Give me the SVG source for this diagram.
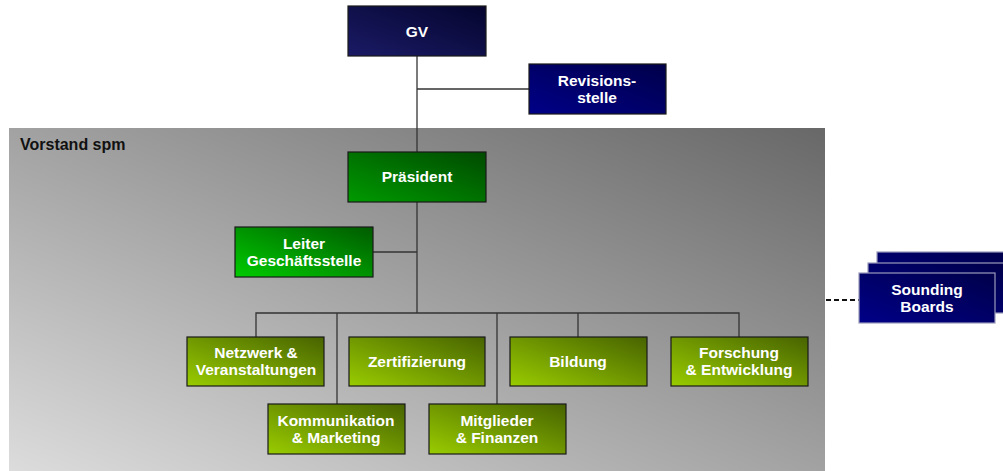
<svg xmlns="http://www.w3.org/2000/svg" width="1003" height="471" viewBox="0 0 1003 471">
<defs>
<linearGradient id="panel" x1="0" y1="1" x2="1" y2="0">
<stop offset="0" stop-color="#dcdcdc"/>
<stop offset="1" stop-color="#686868"/>
</linearGradient>
<linearGradient id="navyDark" x1="0" y1="1" x2="1" y2="0">
<stop offset="0" stop-color="#1a1a66"/>
<stop offset="1" stop-color="#05052e"/>
</linearGradient>
<linearGradient id="navy" x1="0" y1="1" x2="1" y2="0">
<stop offset="0" stop-color="#000088"/>
<stop offset="1" stop-color="#00004a"/>
</linearGradient>
<linearGradient id="green" x1="0" y1="1" x2="1" y2="0">
<stop offset="0" stop-color="#009a00"/>
<stop offset="1" stop-color="#004a00"/>
</linearGradient>
<linearGradient id="lgreen" x1="0" y1="1" x2="1" y2="0">
<stop offset="0" stop-color="#00cc00"/>
<stop offset="1" stop-color="#005a00"/>
</linearGradient>
<linearGradient id="ygreen" x1="0" y1="1" x2="1" y2="0">
<stop offset="0" stop-color="#99cc00"/>
<stop offset="1" stop-color="#476300"/>
</linearGradient>
</defs>
<style>
.box{stroke:#1a1a1a;stroke-width:1.2}
.lbl{font-family:"Liberation Sans",Arial,sans-serif;font-weight:bold;font-size:15.5px;fill:#ffffff;text-anchor:middle}
.con{stroke:#333333;stroke-width:1.3;fill:none}
.dash{stroke:#111111;stroke-width:2;fill:none;stroke-dasharray:5,3}
</style>
<rect id="panel-bg" x="9" y="128" width="816" height="343" fill="url(#panel)"/>
<text x="20" y="150" style="font-family:'Liberation Sans',Arial,sans-serif;font-weight:bold;font-size:16px;fill:#111">Vorstand spm</text>
<g id="connectors">
<path class="con" d="M417 56 V313"/>
<path class="con" d="M417 89 H529"/>
<path class="con" d="M373 252 H417"/>
<path class="con" d="M256 337 V313 H739 V337"/>
<path class="con" d="M337 313 V404"/>
<path class="con" d="M497 313 V404"/>
<path class="con" d="M578 313 V337"/>
<path class="dash" d="M826 300 H859"/>
</g>
<g id="gv"><rect class="box" x="348" y="6" width="138" height="50" fill="url(#navyDark)"/><text class="lbl" x="417" y="37">GV</text></g>
<g id="revisionsstelle"><rect class="box" x="529" y="64" width="137" height="50" fill="url(#navy)" stroke="#9999bb"/><text class="lbl" x="597" y="86">Revisions-</text><text class="lbl" x="597" y="103">stelle</text></g>
<g id="praesident"><rect class="box" x="348" y="152" width="138" height="50" fill="url(#green)"/><text class="lbl" x="417" y="182">Präsident</text></g>
<g id="leiter"><rect class="box" x="235" y="227" width="138" height="50" fill="url(#lgreen)"/><text class="lbl" x="304" y="249">Leiter</text><text class="lbl" x="304" y="266">Geschäftsstelle</text></g>
<g id="netzwerk"><rect class="box" x="187" y="337" width="137" height="49" fill="url(#ygreen)"/><text class="lbl" x="256" y="358">Netzwerk &amp;</text><text class="lbl" x="256" y="375">Veranstaltungen</text></g>
<g id="zertifizierung"><rect class="box" x="349" y="337" width="136" height="49" fill="url(#ygreen)"/><text class="lbl" x="417" y="367">Zertifizierung</text></g>
<g id="bildung"><rect class="box" x="510" y="337" width="137" height="49" fill="url(#ygreen)"/><text class="lbl" x="578" y="367">Bildung</text></g>
<g id="forschung"><rect class="box" x="671" y="337" width="137" height="49" fill="url(#ygreen)"/><text class="lbl" x="739" y="358">Forschung</text><text class="lbl" x="739" y="375">&amp; Entwicklung</text></g>
<g id="kommunikation"><rect class="box" x="268" y="404" width="137" height="50" fill="url(#ygreen)"/><text class="lbl" x="336" y="426">Kommunikation</text><text class="lbl" x="336" y="443">&amp; Marketing</text></g>
<g id="mitglieder"><rect class="box" x="429" y="404" width="137" height="50" fill="url(#ygreen)"/><text class="lbl" x="497" y="426">Mitglieder</text><text class="lbl" x="497" y="443">&amp; Finanzen</text></g>
<g id="sounding-boards">
<rect x="877" y="252" width="136" height="50" fill="url(#navy)" stroke="#9999bb" stroke-width="1.2"/>
<rect x="868" y="263" width="136" height="50" fill="url(#navy)" stroke="#9999bb" stroke-width="1.2"/>
<rect x="859" y="273" width="136" height="50" fill="url(#navy)" stroke="#9999bb" stroke-width="1.2"/>
<text class="lbl" x="927" y="295">Sounding</text><text class="lbl" x="927" y="312">Boards</text>
</g>
</svg>
